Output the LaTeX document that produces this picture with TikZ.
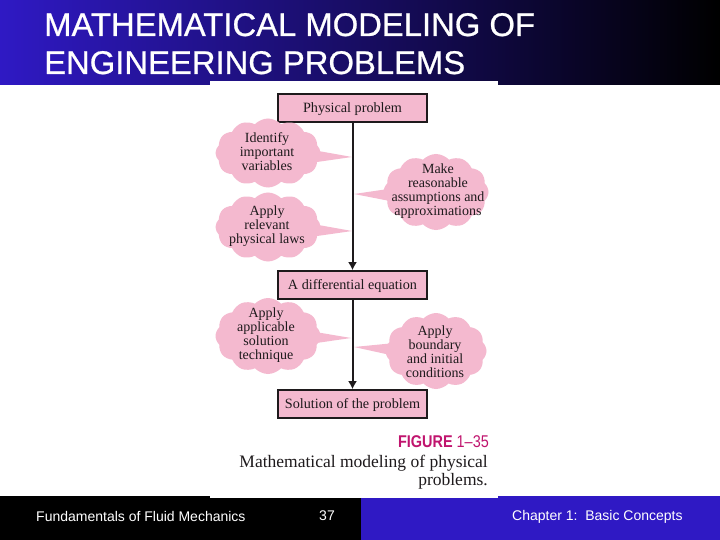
\documentclass[tikz,border=0pt]{standalone}
\usepackage{fontspec}
\setmainfont{Liberation Serif}
\newfontfamily\arialfont{Liberation Sans}
\newfontfamily\titlefont[FakeBold=0.7]{Liberation Sans}
\usetikzlibrary{shapes.symbols,arrows.meta}
\definecolor{slideblue}{HTML}{2F19C4}
\definecolor{cloudpink}{HTML}{F4B9CF}
\definecolor{figmagenta}{HTML}{C0146E}
\definecolor{inkdark}{HTML}{1E1A1C}
\begin{document}
\begin{tikzpicture}[x=1pt,y=-1pt]
\useasboundingbox (0,0) rectangle (720,540);

\tikzset{stepbox/.style={draw=inkdark,line width=1.7pt,fill=cloudpink,minimum width=148.5pt,minimum height=28pt,inner sep=0pt,text height=11pt,text depth=2.5pt,font=\fontsize{14.2}{16}\selectfont,text=inkdark}};
\tikzset{cloudbox/.style={cloud,cloud puffs=12,cloud puff arc=95,fill=cloudpink,inner sep=0pt,minimum width=105pt,minimum height=69pt}};
\tikzset{cloudtext/.style={align=center,inner sep=0pt,font=\fontsize{14}{14}\selectfont,text=inkdark}};
\tikzset{flowline/.style={-{Latex[length=8pt,width=9pt]},line width=2pt,draw=inkdark}};
\tikzset{cloudtail/.style={fill=cloudpink}};
\tikzset{slidetext/.style={inner sep=0pt,text=white,font=\arialfont\fontsize{14}{16}\selectfont}};
\tikzset{titletext/.style={anchor=base west,inner sep=0pt,text=white,font=\titlefont\fontsize{32.8}{36}\selectfont}};
\tikzset{captiontext/.style={anchor=base east,inner sep=0pt,text=inkdark,font=\fontsize{17.5}{20}\selectfont}};

% slide
\fill[left color=slideblue,right color=black] (0,0) rectangle (720,85);
\fill[black] (0,496) rectangle (361,540);
\fill[slideblue] (361,496) rectangle (720,540);
\fill[white] (210,81) rectangle (498,498);
\node (title1) [titletext] at (44,36) {MATHEMATICAL MODELING OF};
\node (title2) [titletext] at (44,74) {ENGINEERING PROBLEMS};
\node (foot1) [slidetext,anchor=base west] at (36,521) {Fundamentals of Fluid Mechanics};
\node (foot2) [slidetext] at (327,516) {37};
\node (foot3) [slidetext,anchor=base west] at (512,520) {Chapter 1:\ \ Basic Concepts};

% boxes
\node (physical) [stepbox] at (352.5,108) {Physical problem};
\node (equation) [stepbox] at (352.5,285) {A differential equation};
\node (solution) [stepbox] at (352.5,404) {Solution of the problem};
\path (physical) edge [flowline] (equation);
\path (equation) edge [flowline] (solution);

% clouds
\node (identify) [cloudbox] at (268,153) {};
\node (make) [cloudbox,minimum height=76pt] at (436,192) {};
\node (relevant) [cloudbox] at (268,227) {};
\node (applicable) [cloudbox,minimum height=76pt] at (268,336) {};
\node (boundary) [cloudbox,minimum height=76pt,minimum width=101pt] at (436,351) {};

\coordinate (tipa) at (352,157);
\coordinate (tipb) at (354,194);
\coordinate (tipc) at (352,231);
\coordinate (tipd) at (351,338);
\coordinate (tipe) at (354,347);
\fill[cloudtail] ([yshift=11pt]identify.center) -- (tipa) -- ([yshift=-16pt]identify.center) -- cycle;
\fill[cloudtail] ([yshift=10pt]make.center) -- (tipb) -- ([yshift=-18pt]make.center) -- cycle;
\fill[cloudtail] ([yshift=11pt]relevant.center) -- (tipc) -- ([yshift=-16pt]relevant.center) -- cycle;
\fill[cloudtail] ([yshift=12pt]applicable.center) -- (tipd) -- ([yshift=-14pt]applicable.center) -- cycle;
\fill[cloudtail] ([yshift=12pt]boundary.center) -- (tipe) -- ([yshift=-14pt]boundary.center) -- cycle;

\node (identifytext) [cloudtext] at (267,152) {Identify\\important\\variables};
\node (maketext) [cloudtext] at (438,191) {Make\\reasonable\\assumptions and\\approximations};
\node (relevanttext) [cloudtext] at (267,226.5) {Apply\\relevant\\physical laws};
\node (applicabletext) [cloudtext] at (266,335.5) {Apply\\applicable\\solution\\technique};
\node (boundarytext) [cloudtext] at (435,351.5) {Apply\\boundary\\and initial\\conditions};

% caption
\node (figlabel) [anchor=base east,inner sep=0pt,text=figmagenta,xscale=.85,font=\arialfont\fontsize{17}{19}\selectfont] at (489,447) {\textbf{FIGURE} 1–35};
\node (caption1) [captiontext] at (488,467) {Mathematical modeling of physical};
\node (caption2) [captiontext] at (488,485) {problems.};
\end{tikzpicture}
\end{document}
